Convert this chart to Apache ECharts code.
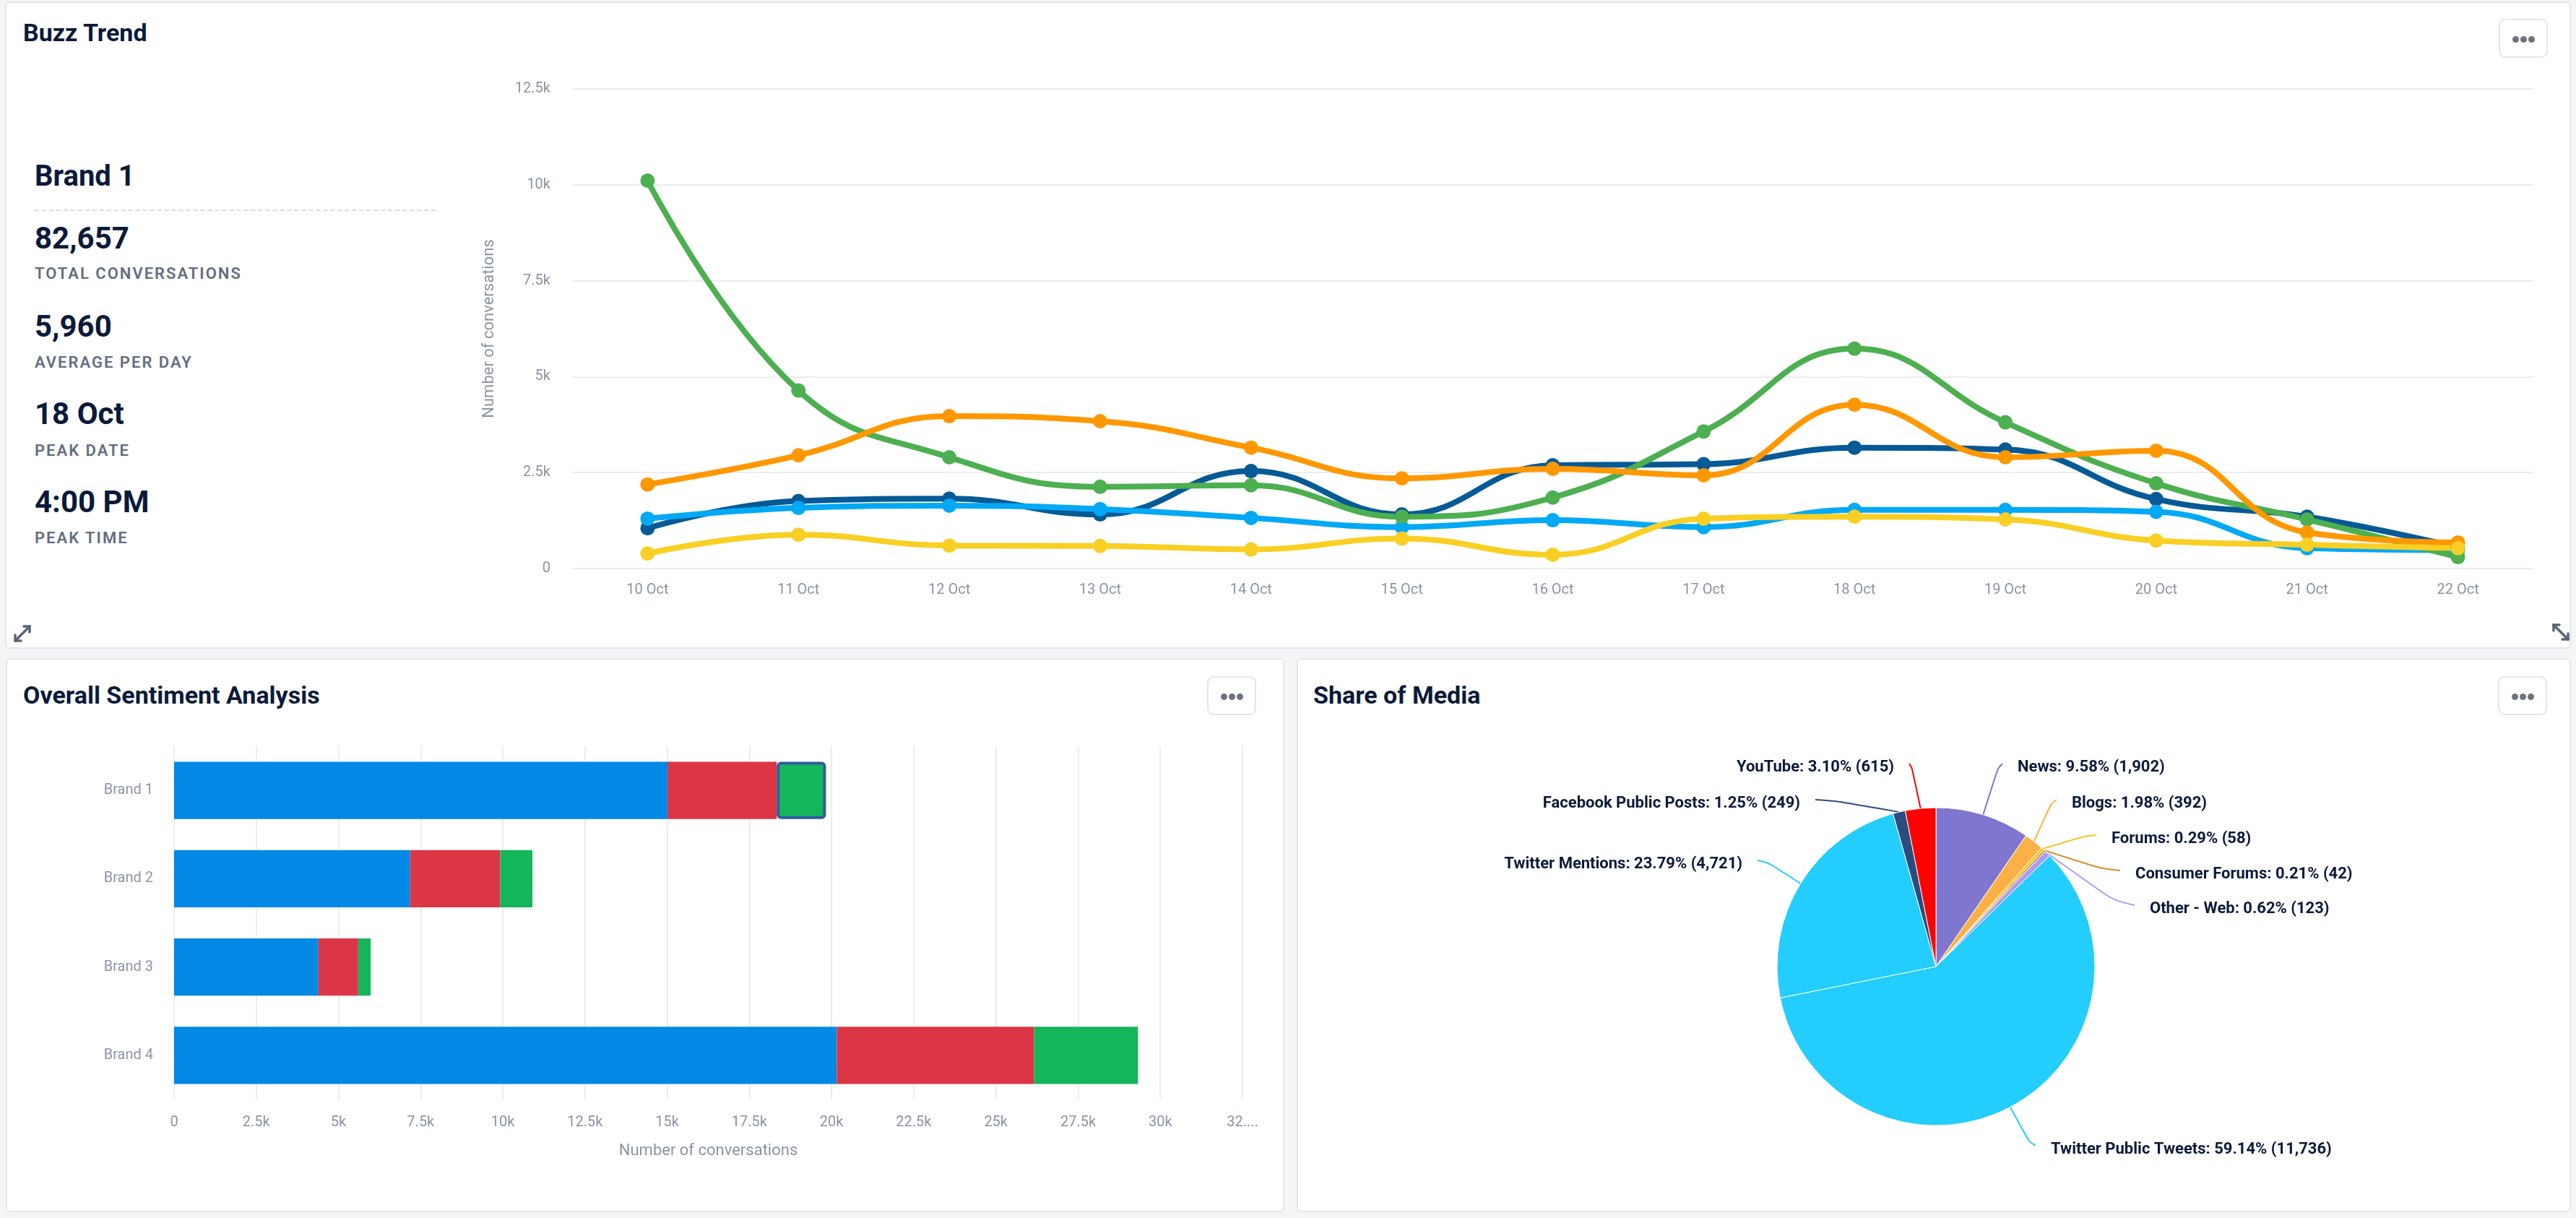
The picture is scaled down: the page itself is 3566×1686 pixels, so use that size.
<!DOCTYPE html>
<html>
<head>
<meta charset="utf-8">
<script src="https://cdn.jsdelivr.net/npm/echarts@6/dist/echarts.min.js"></script>
<style>
  html,body{margin:0;padding:0;width:3566px;height:1686px;background:#f4f5f7;overflow:hidden;font-family:Roboto,"Noto Sans",sans-serif;}
  .card{position:absolute;background:#fff;border:2px solid #e3e6ea;border-radius:6px;box-sizing:border-box;}
  .title{position:absolute;font-weight:700;font-size:34px;color:#0b1a3a;line-height:34px;white-space:nowrap;}
  .btn{position:absolute;width:68px;height:54px;border:2px solid #e3e6ea;border-radius:9px;box-sizing:border-box;background:#fff;}
  .btn i{position:absolute;top:22px;width:9px;height:9px;border-radius:50%;background:#6b7483;}
  .t{position:absolute;left:48px;white-space:nowrap;color:#0b1a3a;}
  .big{font-weight:700;font-size:42px;line-height:42px;}
  .lab{font-weight:600;font-size:22px;line-height:22px;letter-spacing:2px;color:#626e80;}
  #chart{position:absolute;left:0;top:0;width:3566px;height:1686px;}
</style>
</head>
<body>
<div class="card" style="left:7px;top:2px;width:3552px;height:896px;"></div>
<div class="card" style="left:8px;top:911px;width:1770px;height:767px;"></div>
<div class="card" style="left:1795px;top:911px;width:1764px;height:767px;"></div>

<div class="title" style="left:32px;top:28px;">Buzz Trend</div>
<div class="title" style="left:32px;top:945px;">Overall Sentiment Analysis</div>
<div class="title" style="left:1818px;top:945px;">Share of Media</div>

<div class="btn" style="left:3459px;top:26px;"><i style="left:17px"></i><i style="left:28px"></i><i style="left:39px"></i></div>
<div class="btn" style="left:1671px;top:936px;"><i style="left:17px"></i><i style="left:28px"></i><i style="left:39px"></i></div>
<div class="btn" style="left:3458px;top:936px;"><i style="left:17px"></i><i style="left:28px"></i><i style="left:39px"></i></div>

<div id="stats"></div>
<div style="position:absolute;left:48px;top:290px;width:555px;border-top:2px dashed #d8dce2;"></div>

<svg style="position:absolute;left:16px;top:862px" width="30" height="30" viewBox="0 0 30 30">
  <g stroke="#5b6678" stroke-width="3.5" fill="none" stroke-linecap="round">
    <line x1="5" y1="25" x2="25" y2="5"/>
    <polyline points="5,17 5,25 13,25"/>
    <polyline points="17,5 25,5 25,13"/>
  </g>
</svg>
<svg style="position:absolute;left:3530px;top:860px" width="30" height="30" viewBox="0 0 30 30">
  <g stroke="#5b6678" stroke-width="3.5" fill="none" stroke-linecap="round">
    <line x1="5" y1="5" x2="25" y2="25"/>
    <polyline points="5,13 5,5 13,5"/>
    <polyline points="17,25 25,25 25,17"/>
  </g>
</svg>

<div id="chart"></div>
<script>
// ---------- Data ----------
const statBrand = 'Brand 1';
const statValues = ['82,657', '5,960', '18 Oct', '4:00 PM'];
const statLabels = ['TOTAL CONVERSATIONS', 'AVERAGE PER DAY', 'PEAK DATE', 'PEAK TIME'];

const days = ['10 Oct','11 Oct','12 Oct','13 Oct','14 Oct','15 Oct','16 Oct','17 Oct','18 Oct','19 Oct','20 Oct','21 Oct','22 Oct'];
const lineYTicks = ['0','2.5k','5k','7.5k','10k','12.5k'];
const seriesDarkBlue  = [1050,1760,1820,1410,2540,1410,2690,2720,3150,3100,1810,1350,550];
const seriesLightBlue = [1300,1580,1640,1550,1320,1080,1260,1080,1530,1530,1480,530,480];
const seriesGreen     = [10110,4640,2900,2130,2170,1350,1850,3570,5730,3810,2220,1280,300];
const seriesOrange    = [2190,2950,3970,3840,3150,2350,2600,2430,4270,2900,3070,940,680];
const seriesYellow    = [390,880,600,590,500,780,360,1300,1350,1280,730,620,530];

const brands = ['Brand 1','Brand 2','Brand 3','Brand 4'];
const sentPositive = [15010,7180,4390,20160];
const sentNegative = [3320,2740,1210,6000];
const sentNeutral  = [1500,980,380,3160];
const barXTicks = ['0','2.5k','5k','7.5k','10k','12.5k','15k','17.5k','20k','22.5k','25k','27.5k','30k','32....'];

const mediaNames  = ['News','Blogs','Forums','Consumer Forums','Other - Web','Twitter Public Tweets','Twitter Mentions','Facebook Public Posts','YouTube'];
const mediaValues = [1902,392,58,42,123,11736,4721,249,615];
const mediaPct    = [9.58,1.98,0.29,0.21,0.62,59.14,23.79,1.25,3.10];

// ---------- Stats text ----------
(function(){
  const s = document.getElementById('stats');
  let html = '<div class="t big" style="top:224px;font-size:40px;line-height:40px;">' + statBrand + '</div>';
  const bigTops = [309, 431, 552, 674];
  const labTops = [368, 491, 613, 734];
  for (let i = 0; i < statValues.length; i++) {
    html += '<div class="t big" style="top:' + bigTops[i] + 'px">' + statValues[i] + '</div>';
    html += '<div class="t lab" style="top:' + labTops[i] + 'px">' + statLabels[i] + '</div>';
  }
  s.innerHTML = html;
})();

// ---------- Chart ----------
const axisGray = '#8a94a6';
const gridColor = '#ececec';
const FONT = 'Roboto, "Noto Sans", sans-serif';
const chart = echarts.init(document.getElementById('chart'), null, {renderer:'canvas'});

function lineSeries(name, data, color) {
  return {
    type:'line', name, data, xAxisIndex:0, yAxisIndex:0,
    smooth:0.45, symbol:'circle', symbolSize:20, showSymbol:true,
    lineStyle:{width:8, color}, itemStyle:{color},
    emphasis:{disabled:true}
  };
}

const neutralData = sentNeutral.map((v,i) => i === 0
  ? {value:v, itemStyle:{borderColor:'#2f5c9e', borderWidth:4, borderRadius:4}}
  : v);

// connector end points for the pie labels (layout only)
const pieLabelEnds = [
  [2772,1057,'left'], [2847,1107,'left'], [2902,1156,'left'], [2935,1205,'left'],
  [2955,1253,'left'], [2818,1586,'left'], [2433,1191,'right'], [2513,1107,'right'],
  [2643,1057,'right']
];

chart.setOption({
  animation:false,
  textStyle:{fontFamily:FONT},
  grid:[
    {left:792, right:59, top:123, bottom:899, containLabel:false},
    {left:241, right:1846, top:1033, bottom:164, containLabel:false}
  ],
  xAxis:[
    {type:'category', gridIndex:0, data:days, boundaryGap:true,
     axisLine:{show:false}, axisTick:{show:false},
     axisLabel:{color:axisGray, fontSize:20, margin:20}},
    {type:'value', gridIndex:1, min:0, max:32500, interval:2500,
     axisLine:{show:false}, axisTick:{show:false},
     splitLine:{show:true, lineStyle:{color:gridColor, width:2}},
     axisLabel:{color:axisGray, fontSize:20, margin:22,
       formatter:(v)=> barXTicks[Math.round(v/2500)]},
     name:'Number of conversations', nameLocation:'middle', nameGap:60,
     nameTextStyle:{color:axisGray, fontSize:22}}
  ],
  yAxis:[
    {type:'value', gridIndex:0, min:0, max:12500, interval:2500,
     axisLine:{show:false}, axisTick:{show:false},
     splitLine:{lineStyle:{color:gridColor, width:2}},
     axisLabel:{color:axisGray, fontSize:20, margin:30,
       formatter:(v)=> lineYTicks[Math.round(v/2500)]},
     name:'Number of conversations', nameLocation:'middle', nameGap:104, nameRotate:90,
     nameTextStyle:{color:axisGray, fontSize:22}},
    {type:'category', gridIndex:1, data:brands, inverse:true,
     axisLine:{show:false}, axisTick:{show:false},
     axisLabel:{color:axisGray, fontSize:20, margin:29}}
  ],
  series:[
    lineSeries('Brand 1', seriesDarkBlue, '#065a96'),
    lineSeries('Brand 2', seriesLightBlue, '#03a9f4'),
    lineSeries('Brand 3', seriesGreen, '#4caf50'),
    lineSeries('Brand 4', seriesOrange, '#ff9800'),
    lineSeries('Brand 5', seriesYellow, '#f9cf24'),
    {type:'bar', name:'Positive', stack:'s', xAxisIndex:1, yAxisIndex:1, data:sentPositive,
     barWidth:'65%', itemStyle:{color:'#0288e5'}},
    {type:'bar', name:'Negative', stack:'s', xAxisIndex:1, yAxisIndex:1, data:sentNegative,
     barWidth:'65%', itemStyle:{color:'#dc3545'}},
    {type:'bar', name:'Neutral', stack:'s', xAxisIndex:1, yAxisIndex:1, data:neutralData,
     barWidth:'65%', itemStyle:{color:'#13b65a'}},
    {type:'pie', center:[2680,1338], radius:220, startAngle:90, clockwise:true,
     avoidLabelOverlap:false,
     data: mediaNames.map((n,i)=>({name:n, value:mediaValues[i]})),
     color:['#7f76d0','#fdb045','#f6c423','#d98f2e','#a99cf5','#23cdfd','#23cdfd','#2b4d7e','#ff0000'],
     itemStyle:{borderColor:'#ffffff', borderWidth:1},
     label:{show:true, position:'outside', color:'#0b1a3a', fontWeight:'bold', fontSize:22,
       formatter:(p)=> p.name + ': ' + mediaPct[p.dataIndex].toFixed(2) + '% (' + mediaValues[p.dataIndex].toLocaleString('en-US') + ')'},
     labelLine:{show:true, length:40, length2:14, smooth:0.3, lineStyle:{width:2}},
     labelLayout:function(params){
       const e = pieLabelEnds[params.dataIndex];
       const start = params.labelLinePoints ? params.labelLinePoints[0] : [e[0], e[1]];
       const r = 220, cx = 2680, cy = 1338;
       // start point exactly on slice edge
       const dx = start[0]-cx, dy = start[1]-cy, len = Math.sqrt(dx*dx+dy*dy) || 1;
       const s0 = [cx + dx/len*r, cy + dy/len*r];
       const mid = [s0[0] + (e[0]-s0[0])*0.75, s0[1] + (e[1]-s0[1])*0.9];
       const gap = 21;
       return {
         x: e[2]==='left' ? e[0]+gap : e[0]-gap,
         y: e[1]+5,
         align: e[2],
         verticalAlign:'middle',
         labelLinePoints:[s0, mid, [e[0], e[1]]]
       };
     },
     emphasis:{disabled:true}}
  ]
});
</script>
</body>
</html>
